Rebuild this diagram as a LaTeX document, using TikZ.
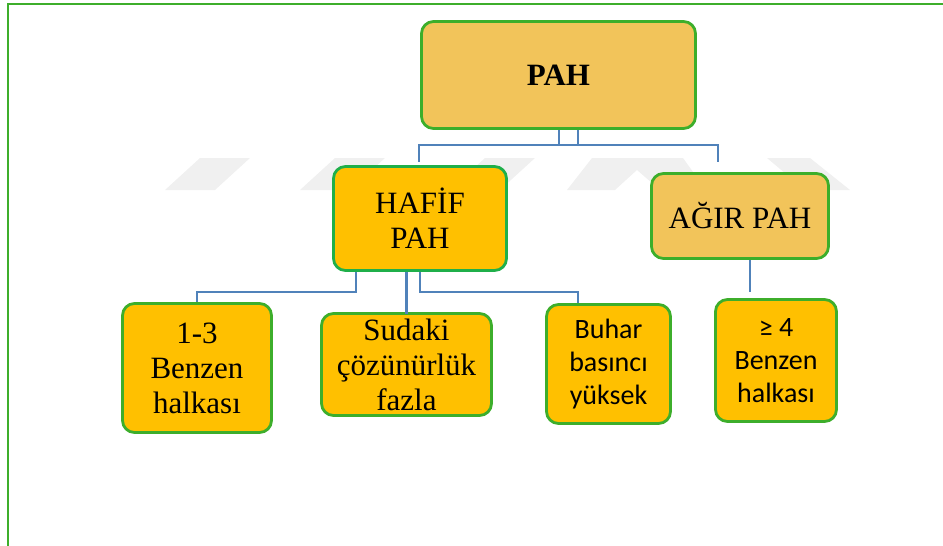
\documentclass[tikz,border=0pt]{standalone}
\usepackage{fontspec}
\setmainfont{Liberation Serif}
\newfontfamily\calfont{Carlito}
\usepackage{tikz}

\definecolor{boxgreen}{HTML}{3DAE2B}
\definecolor{tealgreen}{HTML}{1FAF4A}
\definecolor{lightorange}{HTML}{F2C45A}
\definecolor{gold}{HTML}{FFC000}
\definecolor{linkblue}{HTML}{5082BA}
\definecolor{markgray}{HTML}{F0F0F0}

\tikzset{
  box/.style={draw=boxgreen, line width=2.8pt, rounded corners=12pt, align=center, inner sep=0pt},
  conn/.style={draw=linkblue, line width=2.6pt},
  serifbig/.style={font=\fontsize{31}{35}\selectfont},
  sansbig/.style={font=\calfont\fontsize{28}{33}\selectfont},
}

\begin{document}
\begin{tikzpicture}[x=1pt,y=-1pt]

            \useasboundingbox (0,0) rectangle (943,546);

            % faint watermark behind the chart
            \fill[markgray] (165,190) -- (200,158) -- (250,158) -- (215,190) -- cycle;
            \fill[markgray] (300,190) -- (335,158) -- (385,158) -- (350,190) -- cycle;
            \fill[markgray] (450,190) -- (485,158) -- (535,158) -- (500,190) -- cycle;
            \fill[markgray] (567,190) -- (592,158) -- (683,158) -- (706,190) -- (660,190) -- (637,170) -- (615,190) -- cycle;
            \fill[markgray] (767,158) -- (810,158) -- (850,190) -- (805,190) -- cycle;

            % frame
            \draw[color=boxgreen, line width=2pt] (8,546) -- (8,4) -- (943,4);

            % connector ends and bends
            \coordinate (pahL) at (559,145);
            \coordinate (pahR) at (578,145);
            \coordinate (hafiftop) at (419,162);
            \coordinate (agirtop) at (718,162);
            \coordinate (hafL) at (356,292);
            \coordinate (hafR) at (420,292);
            \coordinate (agirend) at (750,292);

            % top level
            \node[box, fill=lightorange, minimum width=274pt, minimum height=107pt,
                  font=\bfseries\fontsize{31}{35}\selectfont] (pah) at (558.5,75) {PAH};

            % second level
            \node[box, serifbig, fill=gold, draw=tealgreen, minimum width=173pt, minimum height=104pt] (hafif) at (420,218.5) {HAF\.IF\\PAH};
            \node[box, serifbig, fill=lightorange, minimum width=177pt, minimum height=85pt] (agir) at (740,216) {A\u{G}IR PAH};

            % third level
            \node[box, serifbig, fill=gold, minimum width=149pt, minimum height=129pt] (benzen) at (197,368) {1-3\\Benzen\\halkası};
            \node[box, serifbig, fill=gold, minimum width=170pt, minimum height=102pt] (sudaki) at (406.5,364.5) {Sudaki\\çözünürlük\\fazla};
            \node[box, sansbig, fill=gold, minimum width=124pt, minimum height=119pt] (buhar) at (608.5,364) {Buhar\\basıncı\\yüksek};
            \node[box, sansbig, fill=gold, minimum width=121pt, minimum height=122pt] (halka) at (776,360.5) {≥ 4\\Benzen\\halkası};

            \draw[conn] (pah.south -| pahL) -- (pahL) -| (hafiftop);
            \draw[conn] (pah.south -| pahR) -- (pahR) -| (agirtop);
            \draw[conn] (pahL) -- (pahR);

            \draw[conn] (hafif.south -| hafL) -- (hafL) -| (benzen.north);
            \draw[conn] (hafif.south -| sudaki.north) -- ([yshift=-2pt]sudaki.north);
            \draw[conn] (hafif.south -| hafR) -- (hafR) -| (buhar.north -| 578,0);

            \draw[conn] (agir.south -| agirend) -- (agirend);

\end{tikzpicture}
\end{document}
